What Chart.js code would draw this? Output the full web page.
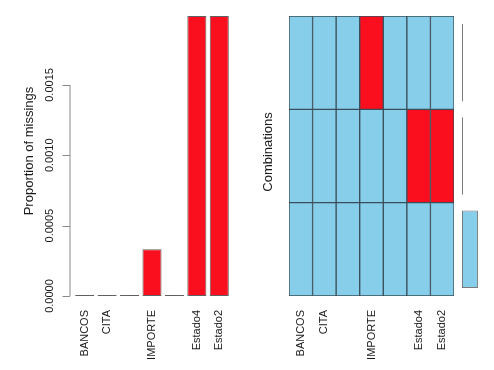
<!DOCTYPE html>
<html>
<head>
<meta charset="utf-8">
<script src="https://cdn.jsdelivr.net/npm/chart.js@4/dist/chart.umd.min.js"></script>
<style>
  html, body { margin: 0; padding: 0; background: #fff; }
  #wrap { position: relative; width: 494px; height: 370px; overflow: hidden; }
  canvas { position: absolute; top: 0; }
</style>
</head>
<body>
<div id="wrap">
  <canvas id="missChart" width="250" height="370" style="left:0"></canvas>
  <canvas id="comboChart" width="206" height="370" style="left:250px"></canvas>
  <canvas id="freqChart" width="38" height="370" style="left:456px"></canvas>
</div>
<script>
// Variables (two names are not printed in the original, R skipped them)
const variables = ['BANCOS', 'CITA', '', 'IMPORTE', '', 'Estado4', 'Estado2'];

// Proportion of missings per variable
const missProportion = [0, 0, 0, 0.000333, 0, 0.00199, 0.00199];

// Y axis ticks of the left panel
const yTickValues = [0, 0.0005, 0.0010, 0.0015];
const yTickLabels = ['0.0000', '0.0005', '0.0010', '0.0015'];

// Missing patterns, top row to bottom row (1 = missing)
const comboImporte = [0, 0, 0, 1, 0, 0, 0];
const comboEstado = [0, 0, 0, 0, 0, 1, 1];
const comboComplete = [0, 0, 0, 0, 0, 0, 0];
const comboNames = ['IMPORTE', 'Estado4+Estado2', 'complete'];

// Proportion of each combination, same order
const comboProportion = [0.000333, 0.00199, 0.99768];

const RED = '#F90F1E';
const BLUE = '#87CEEB';
const FONT = "'Liberation Sans', Arial, Helvetica, sans-serif";
const TEXT = '#1a1a1a';

// Draw vertical text (reads bottom to top), centred on x/y
const drawUp = (ctx, text, x, y, size) => {
    ctx.save();
    ctx.translate(x, y);
    ctx.rotate(-Math.PI / 2);
    ctx.font = `${size}px ${FONT}`;
    ctx.fillStyle = TEXT;
    ctx.textAlign = 'center';
    ctx.textBaseline = 'middle';
    ctx.fillText(text, 0, 0);
    ctx.restore();
};

const xAxis = {
    grid: { display: false, drawTicks: false },
    border: { display: false },
    ticks: {
        autoSkip: false,
        minRotation: 90,
        maxRotation: 90,
        padding: 14,
        color: TEXT,
        font: { family: FONT, size: 11 }
    },
    // fixed height, and no extra side room for the rotated end labels
    afterFit: (scale) => {
        scale.height = 74;
        scale.paddingLeft = 0;
        scale.paddingRight = 0;
    }
};

// R style y axis: line only between first and last tick
const missAxisPlugin = {
    id: 'missAxis',
    afterDraw(chart) {
        const { ctx, chartArea } = chart;
        const y = chart.scales.y;
        const ax = chartArea.left - 3.5;
        const top = y.getPixelForValue(yTickValues[yTickValues.length - 1]);
        const bottom = y.getPixelForValue(yTickValues[0]);
        ctx.save();
        ctx.strokeStyle = '#8a8a8a';
        ctx.lineWidth = 1;
        ctx.beginPath();
        ctx.moveTo(ax, top);
        ctx.lineTo(ax, bottom);
        yTickValues.forEach(v => {
            const py = Math.round(y.getPixelForValue(v)) + 0.5;
            ctx.moveTo(ax, py);
            ctx.lineTo(ax - 7.5, py);
        });
        ctx.stroke();
        ctx.restore();
        yTickValues.forEach((v, i) => {
            drawUp(ctx, yTickLabels[i], ax - 20, y.getPixelForValue(v), 11);
        });
        drawUp(ctx, 'Proportion of missings', 29, 151, 13);
    }
};

new Chart(document.getElementById('missChart'), {
    type: 'bar',
    data: {
        labels: variables,
        datasets: [{
            data: missProportion,
            backgroundColor: RED,
            borderColor: '#606060',
            borderWidth: 1,
            borderSkipped: false,
            minBarLength: 1,
            categoryPercentage: 1,
            barPercentage: 0.85,
            clip: false
        }]
    },
    options: {
        responsive: false,
        animation: false,
        layout: { padding: { left: 73.5, right: 19.5, top: 16, bottom: 0 } },
        plugins: { legend: { display: false }, tooltip: { enabled: false } },
        scales: {
            x: xAxis,
            y: { display: false, min: 0, max: Math.max(...missProportion) }
        }
    },
    plugins: [missAxisPlugin]
});

// Combination grid: one stacked dataset per row, bottom row first
const patternRows = [comboImporte, comboEstado, comboComplete];
const gridSets = patternRows.slice().reverse().map((row, i) => ({
    label: comboNames[patternRows.length - 1 - i],
    data: row.map(() => 1),
    backgroundColor: row.map(m => (m ? RED : BLUE)),
    borderColor: '#3a4e59',
    borderWidth: 1,
    borderSkipped: false,
    categoryPercentage: 1,
    barPercentage: 1
}));

new Chart(document.getElementById('comboChart'), {
    type: 'bar',
    data: { labels: variables, datasets: gridSets },
    options: {
        responsive: false,
        animation: false,
        layout: { padding: { left: 39, right: 2, top: 16, bottom: 0 } },
        plugins: { legend: { display: false }, tooltip: { enabled: false } },
        scales: {
            x: { ...xAxis, stacked: true },
            y: { display: false, stacked: true, min: 0, max: patternRows.length }
        }
    },
    plugins: [{
        id: 'comboTitle',
        afterDraw(chart) {
            drawUp(chart.ctx, 'Combinations', 18, 152, 13);
        }
    }]
});

// Frequency of each combination, bars to the right of the grid
new Chart(document.getElementById('freqChart'), {
    type: 'bar',
    data: {
        labels: comboNames,
        datasets: [{
            data: comboProportion,
            backgroundColor: BLUE,
            borderColor: '#7a7a7a',
            borderWidth: 1,
            borderSkipped: false,
            minBarLength: 1,
            categoryPercentage: 1,
            barPercentage: 0.83,
            clip: false
        }]
    },
    options: {
        indexAxis: 'y',
        responsive: false,
        animation: false,
        layout: { padding: { left: 6, right: 16, top: 16, bottom: 74 } },
        plugins: { legend: { display: false }, tooltip: { enabled: false } },
        scales: {
            x: { display: false, min: 0, max: 1 },
            y: { display: false }
        }
    }
});
</script>
</body>
</html>
